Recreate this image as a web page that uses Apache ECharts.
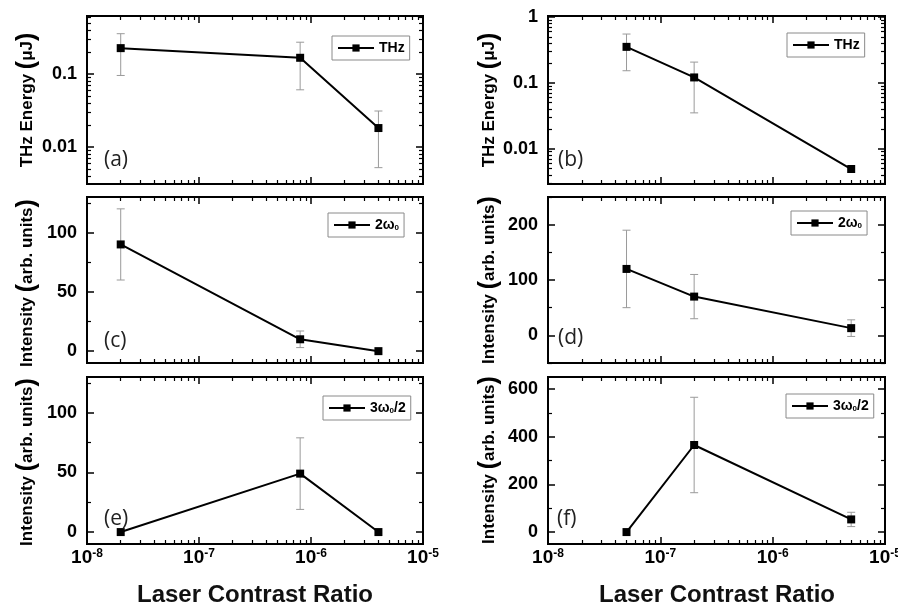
<!DOCTYPE html>
<html><head><meta charset="utf-8">
<script src="https://cdn.jsdelivr.net/npm/echarts@6/dist/echarts.min.js"></script>
<style>html,body{margin:0;padding:0;background:#fff}#c{width:898px;height:610px}</style>
</head><body><div id="c"></div><script>
// ---- data ----
const xLeft = [2e-8, 8e-7, 4e-6];
const xRight = [5e-8, 2e-7, 5e-6];
const thzA = [0.228, 0.168, 0.0182];
const thzAErr = [0.132, 0.107, 0.013];
const thzB = [0.353, 0.121, 0.0049];
const thzBErr = [0.2, 0.086, 0];
const shgC = [90, 10, 0];
const shgCErr = [30, 7, 0];
const shgD = [120, 70, 13];
const shgDErr = [70, 40, 15];
const thhE = [0, 49, 0];
const thhEErr = [0, 30, 0];
const thhF = [0, 365, 53];
const thhFErr = [0, 200, 30];

// ---- tick values ----
const xTickValues = [1e-8, 1e-7, 1e-6, 1e-5];
const yTicksLog = [0.01, 0.1, 1];
const yTicksCE = [0, 50, 100];
const yTicksD = [0, 100, 200];
const yTicksF = [0, 200, 400, 600];
const yMinorCE = [25, 75, 125];
const yMinorD = [-50, 50, 150, 250];
const yMinorF = [100, 300, 500];

const panelLabels = ['(a)', '(b)', '(c)', '(d)', '(e)', '(f)'];
const legendTexts = ['THz', 'THz', '2ω{sub|0}', '2ω{sub|0}', '3ω{sub|0}/2', '3ω{sub|0}/2'];

function logMinor(d0, d1) {
  const out = [];
  for (let d = d0; d <= d1; d++) for (let m = 2; m <= 9; m++) out.push(Number((m * Math.pow(10, d)).toPrecision(3)));
  return out;
}
const xMinor = logMinor(-8, -6);
const yMinorLog = logMinor(-3, 0);

const FONT = '"Liberation Sans", Arial, Helvetica, sans-serif';
const colLeft = [87, 548], colWidth = [336, 337];
const rowTop = [16, 197, 377], rowHeight = [168, 166, 167];

const panels = [
  { col: 0, row: 0, x: xLeft, y: thzA, e: thzAErr, log: true, min: 0.0031, max: 0.63, major: yTicksLog, minor: yMinorLog, leg: [332, 36], lab: [104, 160] },
  { col: 1, row: 0, x: xRight, y: thzB, e: thzBErr, log: true, min: 0.0029, max: 1.04, major: yTicksLog, minor: yMinorLog, leg: [787, 33], lab: [558, 160] },
  { col: 0, row: 1, x: xLeft, y: shgC, e: shgCErr, log: false, min: -10, max: 130, major: yTicksCE, minor: yMinorCE, leg: [328, 213], lab: [104, 341] },
  { col: 1, row: 1, x: xRight, y: shgD, e: shgDErr, log: false, min: -50, max: 250, major: yTicksD, minor: yMinorD, leg: [791, 211], lab: [558, 338] },
  { col: 0, row: 2, x: xLeft, y: thhE, e: thhEErr, log: false, min: -10, max: 130, major: yTicksCE, minor: yMinorCE, leg: [323, 396], lab: [104, 519] },
  { col: 1, row: 2, x: xRight, y: thhF, e: thhFErr, log: false, min: -50, max: 650, major: yTicksF, minor: yMinorF, leg: [786, 394], lab: [557, 519] }
];

const grid = [], xAxis = [], yAxis = [], series = [], legend = [], graphic = [];

function xLabelFmt(v) { return '10{sup|' + Math.round(Math.log10(v)) + '}'; }
function yLabelFmt(v) { return String(Number(Number(v).toPrecision(6))); }

function errRender(params, api) {
  const x = api.value(0), y = api.value(1), e = api.value(2);
  if (!e) return null;
  const t = api.coord([x, y + e]);
  const b = api.coord([x, y - e]);
  const w = 4;
  const st = { stroke: '#9a9a9a', lineWidth: 1 };
  return { type: 'group', children: [
    { type: 'line', shape: { x1: t[0], y1: t[1], x2: b[0], y2: b[1] }, style: st },
    { type: 'line', shape: { x1: t[0] - w, y1: t[1], x2: t[0] + w, y2: t[1] }, style: st },
    { type: 'line', shape: { x1: b[0] - w, y1: b[1], x2: b[0] + w, y2: b[1] }, style: st }
  ] };
}

panels.forEach((p, i) => {
  const rect = { left: colLeft[p.col], top: rowTop[p.row], width: colWidth[p.col], height: rowHeight[p.row], containLabel: false, outerBoundsMode: 'none' };
  grid.push(Object.assign({ show: true, borderColor: '#000', borderWidth: 2, backgroundColor: 'transparent' }, rect));
  grid.push(Object.assign({ show: false }, rect));
  const gMain = 2 * i, gMin = 2 * i + 1;
  const noLine = { show: false, onZero: false };
  const xBase = { type: 'log', logBase: 10, min: 1e-8, max: 1e-5, axisLine: noLine, splitLine: { show: false }, minorTick: { show: false } };
  const yBase = p.log
    ? { type: 'log', logBase: 10, min: p.min, max: p.max, axisLine: noLine, splitLine: { show: false }, minorTick: { show: false } }
    : { type: 'value', min: p.min, max: p.max, axisLine: noLine, splitLine: { show: false }, minorTick: { show: false } };
  const majTick = (vals) => ({ show: true, inside: true, length: 7, lineStyle: { color: '#000', width: 1.5 }, customValues: vals });
  const minTick = (vals) => ({ show: true, inside: true, length: 4, lineStyle: { color: '#000', width: 1.2 }, customValues: vals });
  // x axes
  xAxis.push(Object.assign({}, xBase, { gridIndex: gMain, position: 'bottom', axisTick: majTick(xTickValues),
    axisLabel: { show: p.row === 2, customValues: xTickValues, formatter: xLabelFmt, margin: 4, showMinLabel: true, showMaxLabel: true,
      color: '#000', fontFamily: FONT, fontWeight: 'bold', fontSize: 19,
      rich: { sup: { fontSize: 12, fontWeight: 'bold', fontFamily: FONT, color: '#000', verticalAlign: 'top' } } } }));
  xAxis.push(Object.assign({}, xBase, { gridIndex: gMain, position: 'top', axisTick: majTick(xTickValues), axisLabel: { show: false } }));
  xAxis.push(Object.assign({}, xBase, { gridIndex: gMin, position: 'bottom', axisTick: minTick(xMinor), axisLabel: { show: false } }));
  xAxis.push(Object.assign({}, xBase, { gridIndex: gMin, position: 'top', axisTick: minTick(xMinor), axisLabel: { show: false } }));
  // y axes
  yAxis.push(Object.assign({}, yBase, { gridIndex: gMain, position: 'left', axisTick: majTick(p.major),
    axisLabel: { show: true, customValues: p.major, formatter: yLabelFmt, margin: 10, showMinLabel: true, showMaxLabel: true,
      color: '#000', fontFamily: FONT, fontWeight: 'bold', fontSize: 18 } }));
  yAxis.push(Object.assign({}, yBase, { gridIndex: gMain, position: 'right', axisTick: majTick(p.major), axisLabel: { show: false } }));
  yAxis.push(Object.assign({}, yBase, { gridIndex: gMin, position: 'left', axisTick: minTick(p.minor), axisLabel: { show: false } }));
  yAxis.push(Object.assign({}, yBase, { gridIndex: gMin, position: 'right', axisTick: minTick(p.minor), axisLabel: { show: false } }));

  const name = 's' + i;
  series.push({ type: 'custom', xAxisIndex: 4 * i, yAxisIndex: 4 * i, renderItem: errRender, z: 1, silent: true,
    encode: { x: 0, y: 1 }, data: p.x.map((xv, k) => [xv, p.y[k], p.e[k]]) });
  series.push({ type: 'line', name: name, xAxisIndex: 4 * i, yAxisIndex: 4 * i, z: 3,
    symbol: 'rect', symbolSize: 8, showSymbol: true,
    lineStyle: { color: '#000', width: 2 }, itemStyle: { color: '#000' },
    data: p.x.map((xv, k) => [xv, p.y[k]]) });
  legend.push({ left: p.leg[0], top: p.leg[1], data: [name], selectedMode: false, orient: 'horizontal',
    borderColor: '#8a8a8a', borderWidth: 1, padding: [5, 5, 5, 5], itemWidth: 36, itemHeight: 9, itemGap: 0,
    formatter: () => legendTexts[i],
    textStyle: { color: '#000', fontFamily: FONT, fontWeight: 'bold', fontSize: 14,
      rich: { sub: { fontSize: 8, fontWeight: 'bold', fontFamily: FONT, color: '#000', verticalAlign: 'bottom' } } } });
  graphic.push({ type: 'text', x: p.lab[0], y: p.lab[1], style: { text: panelLabels[i], fill: '#222', font: '21px "Open Sans", "Noto Sans", sans-serif', align: 'left', verticalAlign: 'middle' } });
});

// y-axis titles
const yTitleRich = { t: { fontSize: 17, fontWeight: 'bold', fontFamily: FONT, fill: '#000', color: '#000' }, p: { fontSize: 25, fontWeight: 'bold', fontFamily: FONT, fill: '#000', color: '#000' } };
const yTitles = [
  ['{t|THz Energy }{p|(}{t|μJ}{p|)}', 27, 100], ['{t|THz Energy }{p|(}{t|μJ}{p|)}', 489, 100],
  ['{t|Intensity }{p|(}{t|arb. units}{p|)}', 27, 283], ['{t|Intensity }{p|(}{t|arb. units}{p|)}', 489, 280],
  ['{t|Intensity }{p|(}{t|arb. units}{p|)}', 27, 462], ['{t|Intensity }{p|(}{t|arb. units}{p|)}', 489, 460]
];
yTitles.forEach(t => graphic.push({ type: 'text', x: t[1], y: t[2], rotation: Math.PI / 2,
  style: { text: t[0], rich: yTitleRich, align: 'center', verticalAlign: 'middle' } }));
// x-axis titles
[255, 717].forEach(cx => graphic.push({ type: 'text', x: cx, y: 595,
  style: { text: 'Laser Contrast Ratio', fill: '#111', font: 'bold 24px ' + FONT, align: 'center', verticalAlign: 'middle' } }));

const chart = echarts.init(document.getElementById('c'), null, { renderer: 'canvas' });
chart.setOption({ animation: false, backgroundColor: '#fff', grid, xAxis, yAxis, series, legend, graphic });
</script></body></html>
